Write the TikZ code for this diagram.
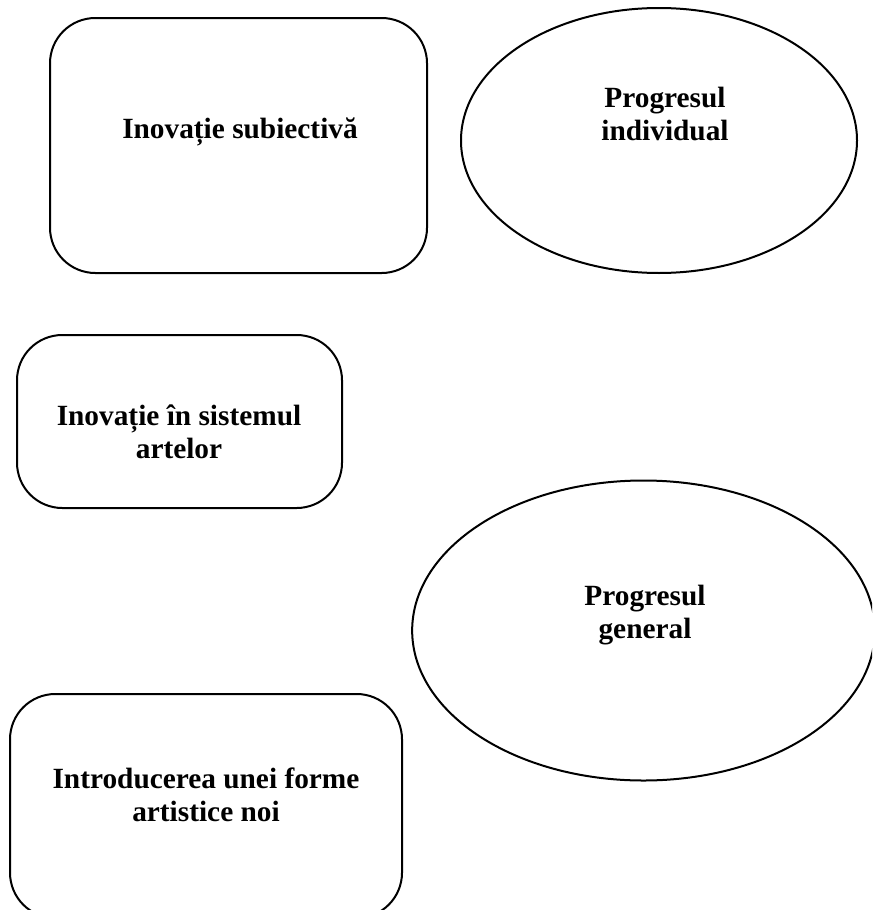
\documentclass[tikz,border=0pt]{standalone}
\usepackage{fontspec}
\setmainfont{Liberation Serif}
\usetikzlibrary{shapes.geometric}
\tikzset{
  rbox/.style={draw=black, line width=1.5pt, rounded corners=34pt, inner sep=0pt},
  oval/.style={draw=black, line width=1.5pt, ellipse, inner sep=0pt},
  lbl/.style={font=\bfseries\fontsize{22}{25}\selectfont, align=center, inner sep=0pt}
}
\begin{document}
\begin{tikzpicture}[x=0.75pt,y=-0.75pt]
\path[use as bounding box, clip] (0,0) rectangle (872,910);
% shapes
\node[rbox, minimum width=282.75pt, minimum height=191.25pt] (b1) at (238.5,145.5) {};
\node[oval, minimum width=297pt, minimum height=198.75pt] (e1) at (659,140.5) {};
\node[rbox, minimum width=243.75pt, minimum height=129.75pt] (b2) at (179.5,421.5) {};
\node[oval, minimum width=347pt, minimum height=225pt] (e2) at (643.5,630.5) {};
\node[rbox, minimum width=294pt, minimum height=168pt] (b3) at (206,806) {};
% labels
\node[lbl] (t1) at (240,132) {Inovație subiectivă};
\node[lbl] (t2) at (665,114) {Progresul\\individual};
\node[lbl] (t3) at (179,432) {Inovație în sistemul\\artelor};
\node[lbl] (t4) at (645,615) {Progresul\\general};
\node[lbl] (t5) at (206,795) {Introducerea unei forme\\artistice noi};
\end{tikzpicture}
\end{document}
